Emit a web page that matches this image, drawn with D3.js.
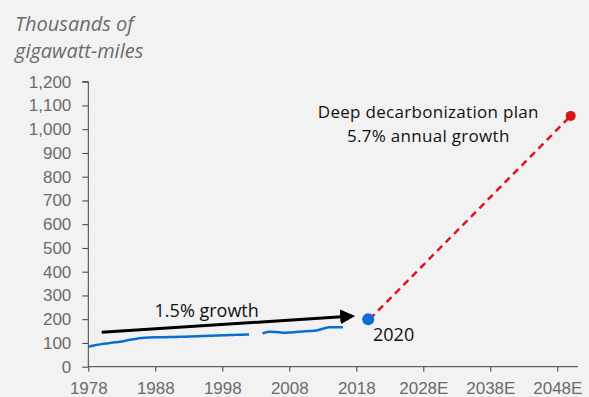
<!DOCTYPE html>
<html><head><meta charset="utf-8">
<script src="https://cdn.jsdelivr.net/npm/d3@7"></script>
<style>
html,body{margin:0;padding:0;background:#f2f2f2;}
svg{display:block;font-family:"Open Sans",Lato,sans-serif;}
</style></head>
<body><svg id="c" width="589" height="397"></svg>
<script>
const histYears = d3.range(1978, 2017);
const histValues = [84,90,95,99,103,106,112,117,121,123,124,124,125,125,126,127,128,129,130,131,132,133,134,135,136,null,140,147,146,143,144,146,148,150,152,160,166,166,166];
const point2020 = {year:2020, value:200};
const plan = [{year:2020, value:200},{year:2050, value:1056}];
const arrowLine = [{year:1980, value:145},{year:2017.9, value:214}];
const yTicks = d3.range(0, 1201, 100);
const xTickYears = [1978,1988,1998,2008,2018,2028,2038,2048];
const xTickLabels = ["1978","1988","1998","2008","2018","2028E","2038E","2048E"];
const planLabel = ["Deep decarbonization plan","5.7% annual growth"];

const svg = d3.select("#c");
const x = d3.scaleLinear().domain([1978, 2048]).range([88.3, 557.3]);
const y = d3.scaleLinear().domain([0, 1200]).range([366.7, 81.7]);

const tickFont = "17px";
const yAxis = d3.axisLeft(y).tickValues(yTicks).tickSize(6).tickPadding(11).tickFormat(d3.format(","));
const gy = svg.append("g").attr("transform","translate(88.3,0)").call(yAxis);
gy.select(".domain").attr("stroke","#404040").attr("d","M-6,81.7H0V366.7");
gy.selectAll(".tick line").attr("stroke","#404040");
gy.selectAll(".tick text").attr("fill","#6b6b6b").style("font-size",tickFont);

const xAxis = d3.axisBottom(x).tickValues(xTickYears).tickSize(5).tickPadding(10).tickFormat((d,i)=>xTickLabels[i]);
const gx = svg.append("g").attr("transform","translate(0,366.7)").call(xAxis);
gx.select(".domain").attr("stroke","#404040").attr("d","M88.3,0H578");
gx.selectAll(".tick line").attr("stroke","#404040");
gx.selectAll(".tick text").attr("fill","#6b6b6b").style("font-size",tickFont);

// title
const title = svg.append("text").attr("fill","#6b6b6b").style("font-size","20px").style("font-style","italic");
title.append("tspan").attr("x",15).attr("y",31).text("Thousands of");
title.append("tspan").attr("x",15).attr("y",58).text("gigawatt-miles");

// historical line
const hist = histYears.map((yr,i)=>({year:yr, value:histValues[i]}));
const line = d3.line().defined(d=>d.value!=null).x(d=>x(d.year)).y(d=>y(d.value)).curve(d3.curveMonotoneX);
svg.append("path").datum(hist).attr("d",line).attr("fill","none").attr("stroke","#0a6ed1").attr("stroke-width",2.5);

// plan dashed line
svg.append("path").datum(plan).attr("d",d3.line().x(d=>x(d.year)).y(d=>y(d.value)))
  .attr("fill","none").attr("stroke","#e0141e").attr("stroke-width",2.5).attr("stroke-dasharray","7,5").attr("stroke-dashoffset",-12);
svg.append("circle").attr("cx",x(plan[1].year)).attr("cy",y(plan[1].value)).attr("r",5).attr("fill","#d7141a");
svg.append("circle").attr("cx",x(point2020.year)-1.5).attr("cy",y(point2020.value)).attr("r",6).attr("fill","#0a6ed1");

// arrow
svg.append("defs").append("marker").attr("id","ah").attr("viewBox","0 0 10 10").attr("refX",1).attr("refY",5)
  .attr("markerWidth",5).attr("markerHeight",5.5).attr("orient","auto").attr("markerUnits","strokeWidth")
  .append("path").attr("d","M0,0L10,5L0,10Z").attr("fill","#000");
const a0 = arrowLine[0], a1 = arrowLine[1];
const ax0 = x(a0.year), ay0 = y(a0.value), ax1 = x(a1.year), ay1 = y(a1.value);
const len = Math.hypot(ax1-ax0, ay1-ay0);
const shorten = 14;
svg.append("line").attr("x1",ax0).attr("y1",ay0)
  .attr("x2",ax1-(ax1-ax0)/len*shorten).attr("y2",ay1-(ay1-ay0)/len*shorten)
  .attr("stroke","#000").attr("stroke-width",3).attr("marker-end","url(#ah)");

// labels
const lf = "18px";
svg.append("text").attr("x",206.7).attr("y",317).attr("text-anchor","middle").attr("fill","#111").style("font-size",lf).text("1.5% growth");
svg.append("text").attr("x",373).attr("y",341).attr("fill","#111").style("font-size",lf).text("2020");
svg.selectAll("text.plan").data(planLabel).join("text").attr("class","plan")
  .attr("x",428.3).attr("y",(d,i)=>118+i*23.5).attr("text-anchor","middle").attr("fill","#111")
  .style("font-size","17px").style("letter-spacing","0.3px").text(d=>d);
</script></body></html>
